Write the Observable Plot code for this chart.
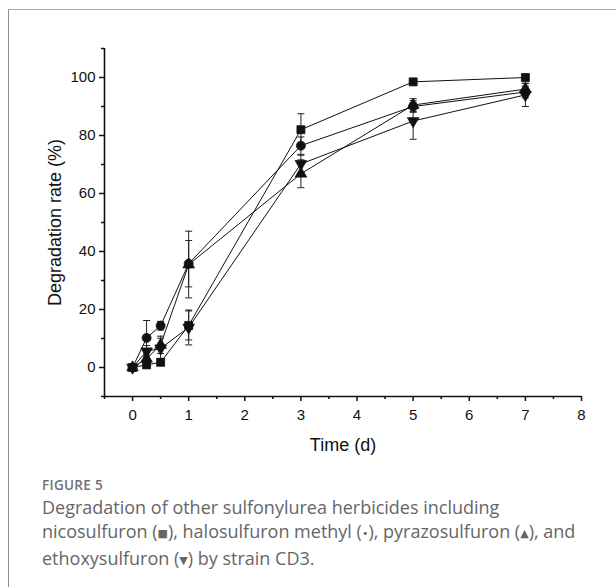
<!DOCTYPE html>
<html>
<head>
<meta charset="utf-8">
<script src="https://cdn.jsdelivr.net/npm/d3@7"></script>
<script src="https://cdn.jsdelivr.net/npm/@observablehq/plot@0.6"></script>
<style>
  html, body { margin: 0; padding: 0; background: #fff; }
  body { width: 616px; height: 587px; position: relative; overflow: hidden; }
  #card { position: absolute; left: 8px; top: 9px; width: 620px; height: 600px;
          border-top: 1.5px solid #b0b0b0; border-left: 1.5px solid #8c8c8c; }
  #chart { position: absolute; left: 0; top: 0; }
  #fig { position: absolute; left: 42px; top: 476px; font-family: "Open Sans", sans-serif;
         font-size: 13.5px; font-weight: 600; color: #707070; letter-spacing: 0.3px; }
  #cap { position: absolute; left: 42px; top: 495px; font-family: "Open Sans", sans-serif;
         font-size: 18px; line-height: 24px; color: #666; font-weight: 400; white-space: nowrap; }
  #cap .sym { font-family: "DejaVu Sans", sans-serif; font-size: 11px; vertical-align: 1px; }
</style>
</head>
<body>
<div id="card"></div>
<div id="chart"></div>
<div id="fig">FIGURE 5</div>
<div id="cap">Degradation of other sulfonylurea herbicides including<br>nicosulfuron (<span class="sym">■</span>), halosulfuron methyl (<span class="sym">•</span>), pyrazosulfuron (<span class="sym">▲</span>), and<br>ethoxysulfuron (<span class="sym">▼</span>) by strain CD3.</div>
<script>
// ---- data ----
const times = [0, 0.25, 0.5, 1, 3, 5, 7];
const seriesNames = ["nicosulfuron", "halosulfuron methyl", "pyrazosulfuron", "ethoxysulfuron"];
const nicosulfuron = [0, 0.9, 1.8, 14.5, 82, 98.5, 100];
const nicosulfuronErr = [0.5, 1, 1, 5, 5.5, 1, 0.6];
const halosulfuron = [0, 10.2, 14.4, 35.8, 76.5, 90, 95];
const halosulfuronErr = [0.5, 6, 1.5, 8, 3, 2, 2];
const pyrazosulfuron = [0, 3, 7.8, 35.5, 66.8, 90.5, 96];
const pyrazosulfuronErr = [0.5, 2, 3, 11.5, 4.8, 2.2, 2];
const ethoxysulfuron = [0, 5.6, 6.6, 13.8, 70.2, 85, 94];
const ethoxysulfuronErr = [0.5, 2, 3.5, 6, 3, 6.3, 4];
const xTicks = [0, 1, 2, 3, 4, 5, 6, 7, 8];
const xMinorTicks = [-0.5, 0.5, 1.5, 2.5, 3.5, 4.5, 5.5, 6.5, 7.5];
const yTicks = [0, 20, 40, 60, 80, 100];
const yMinorTicks = [-10, 10, 30, 50, 70, 90, 110];
const xLabel = "Time (d)";
const yLabel = "Degradation rate (%)";

// ---- symbols ----
const triangleDown = {
  draw(context, size) {
    const y = -Math.sqrt(size / (Math.sqrt(3) * 3));
    context.moveTo(0, -y * 2);
    context.lineTo(-Math.sqrt(3) * y, y);
    context.lineTo(Math.sqrt(3) * y, y);
    context.closePath();
  }
};
const capLine = {
  draw(context, size) {
    const w = Math.sqrt(size / Math.PI);
    context.moveTo(-w, 0);
    context.lineTo(w, 0);
  }
};

const valuesList = [nicosulfuron, halosulfuron, pyrazosulfuron, ethoxysulfuron];
const errList = [nicosulfuronErr, halosulfuronErr, pyrazosulfuronErr, ethoxysulfuronErr];
const symbolList = ["square", "circle", "triangle", triangleDown];
const sizeList = [4.5, 4.5, 4.3, 4.3];

const data = [];
seriesNames.forEach((name, i) => {
  times.forEach((t, j) => {
    data.push({series: name, t, v: valuesList[i][j], e: errList[i][j], si: i});
  });
});

const marks = [
  Plot.ruleX([-0.5], {stroke: "#111", strokeWidth: 1.6}),
  Plot.ruleY([-10], {stroke: "#111", strokeWidth: 1.6}),
  Plot.axisX({ticks: xTicks, tickSize: 5, tickPadding: 8, label: xLabel, labelAnchor: "center", labelArrow: "none", labelOffset: 54, stroke: "#111", strokeWidth: 1.5, color: "#111"}),
  Plot.axisX({ticks: xMinorTicks, tickSize: 3, tickFormat: () => "", label: null, stroke: "#111", strokeWidth: 1.5}),
  Plot.axisY({ticks: yTicks, tickSize: 5, tickPadding: 4, label: yLabel, labelAnchor: "center", labelArrow: "none", labelOffset: 56, stroke: "#111", strokeWidth: 1.5, color: "#111"}),
  Plot.axisY({ticks: yMinorTicks, tickSize: 3, tickFormat: () => "", label: null, stroke: "#111", strokeWidth: 1.5}),
  Plot.line(data, {x: "t", y: "v", z: "series", stroke: "#111", strokeWidth: 1}),
  Plot.ruleX(data, {x: "t", y1: d => d.v - d.e, y2: d => d.v + d.e, stroke: "#222", strokeWidth: 1}),
  Plot.dot(data, {x: "t", y: d => d.v + d.e, symbol: () => capLine, r: 3.5, stroke: "#222", strokeWidth: 1, fill: "none"}),
  Plot.dot(data, {x: "t", y: d => d.v - d.e, symbol: () => capLine, r: 3.5, stroke: "#222", strokeWidth: 1, fill: "none"})
];
seriesNames.forEach((name, i) => {
  marks.push(Plot.dot(data.filter(d => d.si === i), {x: "t", y: "v", symbol: () => symbolList[i], r: sizeList[i], fill: "#111", stroke: "#111", strokeWidth: 0.8}));
});

const chart = Plot.plot({
  width: 616,
  height: 462,
  marginLeft: 104,
  marginRight: 35,
  marginTop: 48,
  marginBottom: 66,
  style: {fontFamily: "'Liberation Sans', Arial, sans-serif", fontSize: "15px", color: "#111", background: "transparent"},
  x: {domain: [-0.5, 8]},
  y: {domain: [-10, 110]},
  symbol: {type: "identity"},
  marks
});
chart.querySelectorAll("g").forEach(g => { if (g.hasAttribute("font-size")) g.removeAttribute("font-size"); });
chart.querySelectorAll("text").forEach(t => {
  const s = t.textContent;
  t.removeAttribute("font-size");
  if (s === xLabel || s === yLabel) t.style.fontSize = "18px";
  else t.style.fontSize = "15px";
});
document.getElementById("chart").appendChild(chart);
</script>
</body>
</html>
